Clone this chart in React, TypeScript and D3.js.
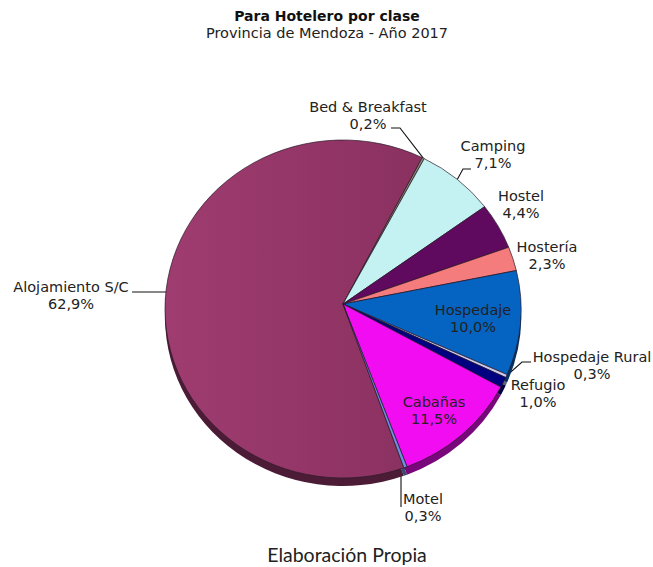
import React from "react";
import * as d3 from "d3";

const classes = ["Alojamiento S/C", "Bed & Breakfast", "Camping", "Hostel", "Hostería", "Hospedaje", "Hospedaje Rural", "Refugio", "Cabañas", "Motel"];
const shares = [62.9, 0.2, 7.1, 4.4, 2.3, 10.0, 0.3, 1.0, 11.5, 0.3];
const colors = ["#96366a", "#8a8a70", "#c4f2f2", "#5f0a5f", "#f47c7c", "#0563c1", "#c8c8f0", "#000080", "#f20cf2", "#6f8fe0"];
const sideColors = ["#4c1c36", "#45453a", "#627979", "#300530", "#7a3e3e", "#033261", "#646478", "#000040", "#79067a", "#384870"];

// label placement, by class
const labelPos: Record<string, [number, number]> = {
  "Alojamiento S/C": [71, 292],
  "Bed & Breakfast": [368, 112],
  "Camping": [493, 151],
  "Hostel": [521, 201],
  "Hostería": [547, 252],
  "Hospedaje": [473, 315],
  "Hospedaje Rural": [592, 362],
  "Refugio": [538, 390],
  "Cabañas": [434, 407],
  "Motel": [423, 504],
};
// leader lines: label end, then elbow; the last leg runs to the slice's rim
const leaders: Record<string, [number, number][]> = {
  "Alojamiento S/C": [[132, 292], [172, 292]],
  "Bed & Breakfast": [[391, 128], [400, 128]],
  "Camping": [[471, 169], [463, 169]],
  "Hospedaje Rural": [[531, 362], [522, 362]],
  "Motel": [[401, 507], [401, 472]],
};

const width = 653;
const height = 567;
const cx = 343;
const cy = 309; // centre of the rim ellipse
const apexY = 304; // the slices meet a little above it
const rx = 178;
const ry = 169;
const depth = 8;
const startDeg = 160;

export default function App() {
  const pie = d3
    .pie<number>()
    .sort(null)
    .startAngle((startDeg * Math.PI) / 180)
    .endAngle(((startDeg + 360) * Math.PI) / 180);
  const arcs = pie(shares);

  const onRim = (a: number, dy = 0): [number, number] => [
    cx + rx * Math.sin(a),
    cy + dy - ry * Math.cos(a),
  ];
  const slice = (d: d3.PieArcDatum<number>, dy = 0) => {
    const [x0, y0] = onRim(d.startAngle, dy);
    const [x1, y1] = onRim(d.endAngle, dy);
    const large = d.endAngle - d.startAngle > Math.PI ? 1 : 0;
    return `M${cx},${apexY + dy}L${x0},${y0}A${rx},${ry} 0 ${large} 1 ${x1},${y1}Z`;
  };
  const line = d3.line();

  return (
    <svg
      width={width}
      height={height}
      style={{ position: "absolute", left: 0, top: 0, background: "#fff" }}
      fontFamily="'DejaVu Sans', Verdana, sans-serif"
      fontSize={14.5}
      fill="#222"
    >
      <defs>
        <linearGradient id="shade" x1="0" x2="1" y1="0" y2="0">
          <stop offset="0" stopColor="#9f3c70" />
          <stop offset="1" stopColor="#8a3160" />
        </linearGradient>
      </defs>
      <text x={327} y={21} textAnchor="middle" fontWeight="bold" fontSize={14} fill="#111">
        Para Hotelero por clase
      </text>
      <text x={327} y={38} textAnchor="middle" fontSize={14.5}>
        Provincia de Mendoza - Año 2017
      </text>

      {classes.map((c, i) => {
        const pts = leaders[c];
        if (!pts) return null;
        const mid = (arcs[i].startAngle + arcs[i].endAngle) / 2;
        return (
          <path
            key={c}
            d={line([pts[0], pts[1], onRim(mid)]) ?? ""}
            fill="none"
            stroke="#111"
            strokeWidth={1.1}
          />
        );
      })}

      {/* lower rim of the pie */}
      {arcs.map((d, i) => (
        <path key={i} d={slice(d, depth)} fill={sideColors[i]} />
      ))}
      {arcs.map((d, i) => (
        <path
          key={i}
          d={slice(d)}
          fill={i === 0 ? "url(#shade)" : colors[i]}
          stroke="#2a1a2a"
          strokeWidth={0.7}
        />
      ))}

      {classes.map((c, i) => {
        const [x, y] = labelPos[c];
        return (
          <text key={c} x={x} y={y} textAnchor="middle">
            <tspan x={x}>{c}</tspan>
            <tspan x={x} dy={17}>
              {shares[i].toFixed(1).replace(".", ",")}%
            </tspan>
          </text>
        );
      })}

      <text x={347} y={562} textAnchor="middle" fontFamily="Lato, sans-serif" fontSize={19.5} fill="#222">
        Elaboración Propia
      </text>
    </svg>
  );
}
